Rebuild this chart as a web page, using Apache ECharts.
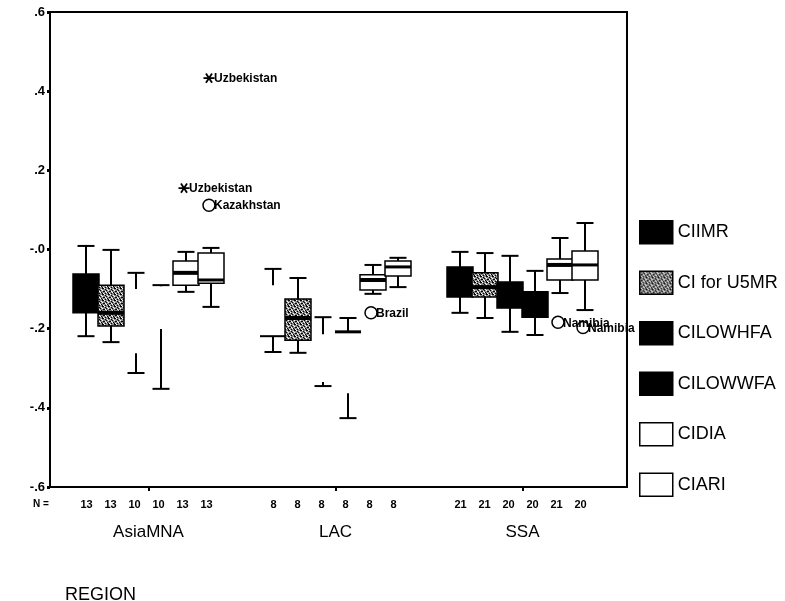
<!DOCTYPE html>
<html><head><meta charset="utf-8">
<script src="https://cdn.jsdelivr.net/npm/echarts@6/dist/echarts.min.js"></script>
<style>html,body{margin:0;padding:0;background:#fff}#c{width:785px;height:601px}</style>
</head><body><div id="c"></div>
<script>
// ---------- data ----------
const categories = ['AsiaMNA', 'LAC', 'SSA'];
const seriesNames = ['CIIMR', 'CI for U5MR', 'CILOWHFA', 'CILOWWFA', 'CIDIA', 'CIARI'];
// each entry: [min, Q1, median, Q3, max] for AsiaMNA, LAC, SSA
const ciimr   = [[-0.219, -0.160, -0.110, -0.062,  0.009], [-0.259, -0.219, -0.150, -0.090, -0.049], [-0.160, -0.120, -0.080, -0.044, -0.006]];
const ciu5mr  = [[-0.234, -0.193, -0.160, -0.090, -0.001], [-0.261, -0.229, -0.173, -0.125, -0.072], [-0.173, -0.120, -0.095, -0.059, -0.009]];
const cilowhfa= [[-0.312, -0.262, -0.180, -0.100, -0.059], [-0.345, -0.335, -0.270, -0.214, -0.171], [-0.208, -0.148, -0.115, -0.082, -0.016]];
const cilowwfa= [[-0.352, -0.201, -0.150, -0.093, -0.090], [-0.426, -0.363, -0.290, -0.208, -0.173], [-0.216, -0.171, -0.140, -0.107, -0.054]];
const cidia   = [[-0.107, -0.090, -0.059, -0.029, -0.006], [-0.112, -0.102, -0.077, -0.064, -0.039], [-0.110, -0.077, -0.039, -0.024,  0.029]];
const ciari   = [[-0.145, -0.085, -0.077, -0.009,  0.004], [-0.095, -0.067, -0.044, -0.029, -0.021], [-0.153, -0.077, -0.039, -0.004,  0.067]];
// N per box
const nCiimr = [13, 8, 21];
const nCiu5mr = [13, 8, 21];
const nCilowhfa = [10, 8, 20];
const nCilowwfa = [10, 8, 20];
const nCidia = [13, 8, 21];
const nCiari = [13, 8, 20];
// outliers
const outCategory = [0, 0, 0, 1, 2, 2];
const outSeries   = [5, 4, 5, 4, 4, 5];
const outValue    = [0.433, 0.155, 0.112, -0.160, -0.184, -0.197];
const outName     = ['Uzbekistan', 'Uzbekistan', 'Kazakhstan', 'Brazil', 'Namibia', 'Namibia'];
const outKind     = ['extreme', 'extreme', 'outlier', 'outlier', 'outlier', 'outlier'];
// y ticks
const yTickValues = [-0.6, -0.4, -0.2, 0, 0.2, 0.4, 0.6];
const yTickLabels = ['-.6', '-.4', '-.2', '-.0', '.2', '.4', '.6'];

const boxData = [ciimr, ciu5mr, cilowhfa, cilowwfa, cidia, ciari];
const countData = [nCiimr, nCiu5mr, nCilowhfa, nCilowwfa, nCidia, nCiari];

// ---------- styles ----------
const FONT = '"Liberation Sans", Arial, sans-serif';
const pat = document.createElement('canvas');
pat.width = 6; pat.height = 6;
(function () {
  const g = pat.getContext('2d');
  g.fillStyle = '#8a8a8a'; g.fillRect(0, 0, 6, 6);
  g.fillStyle = '#000';
  [[0,0],[1,0],[3,1],[4,2],[1,3],[2,3],[5,4],[0,5],[3,5]].forEach(p => g.fillRect(p[0], p[1], 1, 1));
  g.fillStyle = '#fff';
  [[2,0],[5,1],[0,2],[3,3],[4,4],[1,5]].forEach(p => g.fillRect(p[0], p[1], 1, 1));
})();
const patternFill = { image: pat, repeat: 'repeat' };
const seriesFill = ['#000', patternFill, '#000', '#000', '#fff', '#fff'];
const medianWidth = [2, 4, 2, 2, 4, 3];
// box drawing modes per series per category
const boxModes = [
  ['full', 'bottom', 'full'],
  ['full', 'full', 'full'],
  ['none', 'none', 'full'],
  ['none', 'top', 'full'],
  ['full', 'full', 'full'],
  ['full', 'full', 'full']
];

function mkLine(x1, y1, x2, y2, w) {
  return { type: 'line', shape: { x1, y1, x2, y2 }, style: { stroke: '#000', lineWidth: w } };
}

function boxRenderer(s) {
  return function (params, api) {
    const cat = api.value(0);
    const band = api.size([1, 0])[0];
    const unit = band / 187;
    const gc = api.coord([cat, 0])[0];
    const cx = gc + (s - 2.5) * 25 * unit;
    const yv = i => api.coord([cat, api.value(i)])[1];
    const yMin = yv(1), yQ1 = yv(2), yMed = yv(3), yQ3 = yv(4), yMax = yv(5);
    const hw = 13 * unit, cw = 8.5 * unit;
    const mode = boxModes[s][cat];
    const ch = [];
    ch.push(mkLine(cx, yMax, cx, yQ3, 2), mkLine(cx - cw, yMax, cx + cw, yMax, 2));
    ch.push(mkLine(cx, yQ1, cx, yMin, 2), mkLine(cx - cw, yMin, cx + cw, yMin, 2));
    if (mode === 'full') {
      ch.push({ type: 'rect', shape: { x: cx - hw, y: yQ3, width: 2 * hw, height: yQ1 - yQ3 },
        style: { fill: seriesFill[s], stroke: '#000', lineWidth: 1.5 } });
      ch.push(mkLine(cx - hw, yMed, cx + hw, yMed, medianWidth[s]));
    } else if (mode === 'top') {
      ch.push(mkLine(cx - hw, yQ3, cx + hw, yQ3, 3));
    } else if (mode === 'bottom') {
      ch.push(mkLine(cx - hw, yQ1, cx + hw, yQ1, 2));
    }
    const yb = api.coord([cat, -0.6])[1];
    ch.push({ type: 'text', style: { text: String(countData[s][cat]),
      x: gc + (s - 2.5) * 24 * unit - 2, y: yb + 18, align: 'center', verticalAlign: 'middle',
      font: 'bold 11px ' + FONT, fill: '#000' } });
    return { type: 'group', children: ch };
  };
}

function outlierRenderer(params, api) {
  const cat = api.value(0);
  const s = api.value(1);
  const band = api.size([1, 0])[0];
  const unit = band / 187;
  const c = api.coord([cat, api.value(2)]);
  const cx = c[0] + (s - 2.5) * 25 * unit - 2, cy = c[1];
  const i = params.dataIndex;
  const ch = [];
  if (outKind[i] === 'extreme') {
    const r = 5.5;
    ch.push(mkLine(cx - r, cy, cx + r, cy, 1.8));
    ch.push(mkLine(cx - r * 0.55, cy - r * 0.85, cx + r * 0.55, cy + r * 0.85, 1.8));
    ch.push(mkLine(cx - r * 0.55, cy + r * 0.85, cx + r * 0.55, cy - r * 0.85, 1.8));
  } else {
    ch.push({ type: 'circle', shape: { cx, cy, r: 6 }, style: { fill: 'none', stroke: '#000', lineWidth: 1.5 } });
  }
  ch.push({ type: 'text', style: { text: outName[i], x: cx + 5, y: cy + 1, align: 'left', verticalAlign: 'middle',
    font: 'bold 12px ' + FONT, fill: '#000' } });
  return { type: 'group', children: ch };
}

const series = seriesNames.map((name, s) => ({
  name,
  type: 'custom',
  xAxisIndex: 1, yAxisIndex: 1,
  renderItem: boxRenderer(s),
  encode: { x: 0, y: [1, 2, 3, 4, 5] },
  itemStyle: { color: s >= 4 ? '#fff' : (s === 1 ? '#888' : '#000') },
  data: categories.map((c, i) => [i].concat(boxData[s][i])),
  z: 2 + s
}));
series.push({
  name: 'outliers', type: 'custom', xAxisIndex: 1, yAxisIndex: 1,
  renderItem: outlierRenderer,
  encode: { x: 0, y: 2 },
  data: outValue.map((v, i) => [outCategory[i], outSeries[i], v]),
  z: 20
});

const legendFill = ['#000', patternFill, '#000', '#000', '#fff', '#fff'];

const chart = echarts.init(document.getElementById('c'), null, { renderer: 'canvas' });
chart.setOption({
  animation: false,
  backgroundColor: '#fff',
  textStyle: { fontFamily: FONT },
  grid: [
    { left: 50, top: 12, width: 577, height: 475, show: true, borderColor: '#000', borderWidth: 2, backgroundColor: 'transparent' },
    { left: 55, top: 12, width: 561, height: 475 }
  ],
  xAxis: [
    { gridIndex: 0, type: 'value', min: 0, max: 1, show: false },
    { gridIndex: 1, type: 'category', data: categories, position: 'bottom',
      axisLine: { show: false, onZero: false },
      axisTick: { show: true, alignWithLabel: true, length: 4, lineStyle: { color: '#000', width: 2 } },
      axisLabel: { margin: 37, fontSize: 17, color: '#000', fontFamily: FONT },
      splitLine: { show: false } }
  ],
  yAxis: [
    { gridIndex: 0, type: 'value', min: -0.6, max: 0.6, interval: 0.2,
      axisLine: { show: true, lineStyle: { color: '#000', width: 2 } },
      axisTick: { show: true, length: 3, lineStyle: { color: '#000', width: 3 } },
      axisLabel: { margin: 5, fontSize: 13, fontWeight: 'bold', color: '#000', fontFamily: FONT,
        formatter: v => { const k = yTickValues.findIndex(t => Math.abs(t - v) < 1e-6); return k >= 0 ? yTickLabels[k] : ''; } },
      splitLine: { show: false } },
    { gridIndex: 1, type: 'value', min: -0.6, max: 0.6, show: false }
  ],
  legend: {
    orient: 'vertical', left: 639, top: 220, padding: 0,
    itemWidth: 33, itemHeight: 23, itemGap: 26,
    textStyle: { fontSize: 18, color: '#000', fontFamily: FONT },
    selectedMode: false,
    data: seriesNames.map((n, s) => ({ name: n, icon: 'rect',
      itemStyle: { color: legendFill[s], borderColor: '#000', borderWidth: 1.5 } }))
  },
  title: { text: 'REGION', left: 60, top: 581,
    textStyle: { fontSize: 18, fontWeight: 'normal', color: '#000', fontFamily: FONT } },
  graphic: [
    { type: 'text', left: 33, top: 499, style: { text: 'N =', font: 'bold 10px ' + FONT, fill: '#000' } }
  ],
  series
});
</script></body></html>
